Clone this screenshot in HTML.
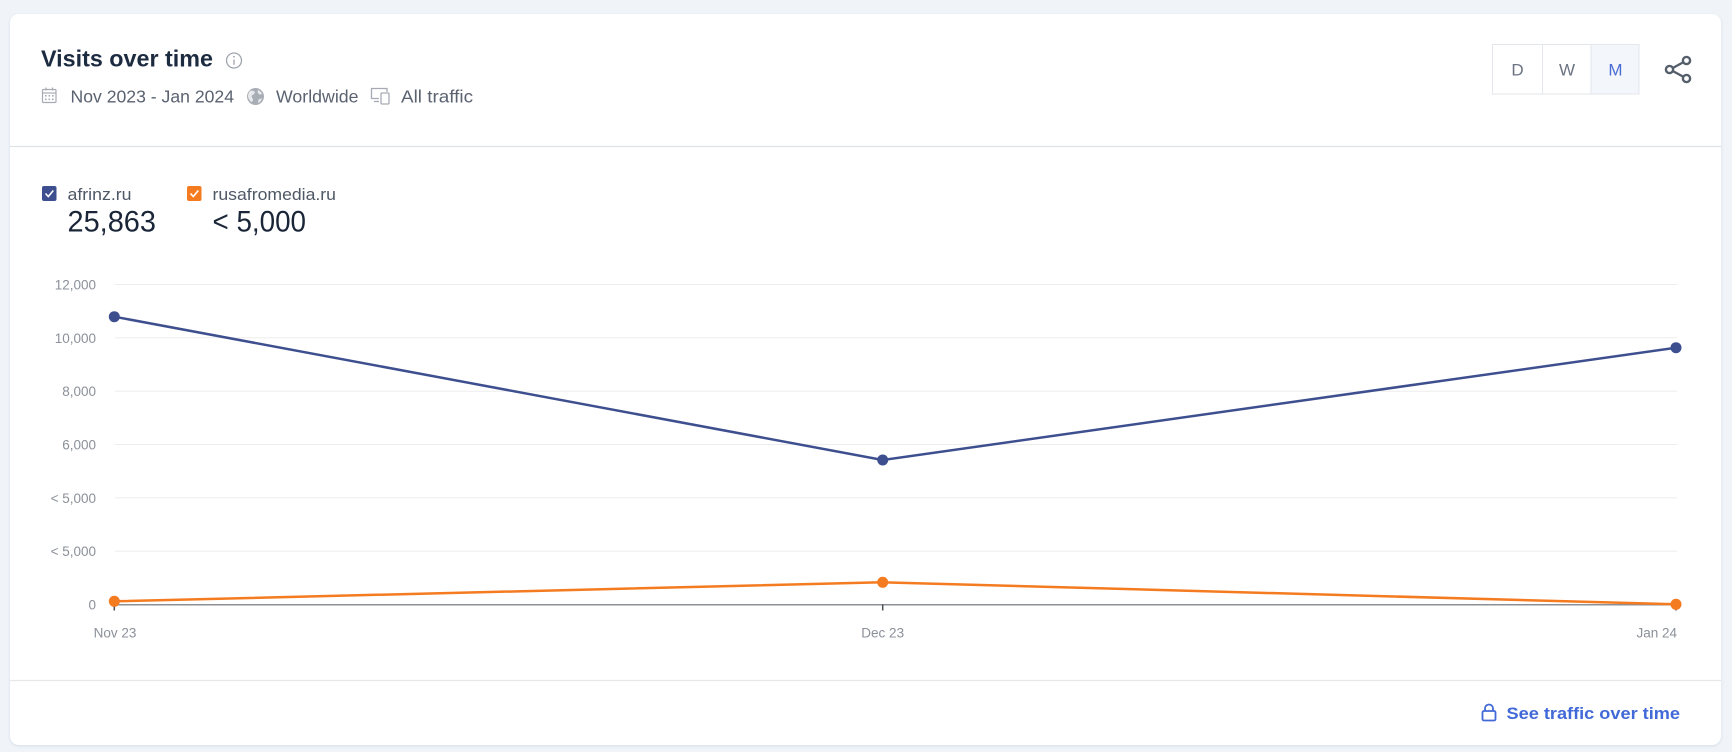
<!DOCTYPE html>
<html>
<head>
<meta charset="utf-8">
<style>
  html,body{margin:0;padding:0;background:#f0f4f9;}
  body{width:1732px;height:752px;overflow:hidden;}
  svg{display:block;}
  text{font-family:"Liberation Sans",Arial,sans-serif;}
</style>
</head>
<body>
<svg width="1732" height="752" viewBox="0 0 1732 752" xmlns="http://www.w3.org/2000/svg">
  <defs>
    <filter id="sh" x="-5%" y="-5%" width="110%" height="110%">
      <feDropShadow dx="0" dy="1" stdDeviation="1.5" flood-color="#9fb0c8" flood-opacity="0.35"/>
    </filter>
  </defs>
  <rect x="0" y="0" width="1732" height="752" fill="#f0f4f9"/>
  <!-- card -->
  <rect x="10" y="14" width="1711" height="731" rx="9" ry="9" fill="#ffffff" filter="url(#sh)"/>

  <!-- title -->
  <text x="41" y="66.5" font-size="23.5" font-weight="bold" fill="#1c2b40" textLength="172" lengthAdjust="spacingAndGlyphs">Visits over time</text>
  <!-- info icon -->
  <circle cx="234" cy="60.5" r="7.5" fill="none" stroke="#a0a5ad" stroke-width="1.3"/>
  <circle cx="234" cy="56.8" r="0.9" fill="#a0a5ad"/>
  <line x1="234" y1="59.5" x2="234" y2="64.8" stroke="#a0a5ad" stroke-width="1.3"/>

  <!-- subtitle -->
  <!-- calendar icon -->
  <g fill="none" stroke="#a6abb3" stroke-width="1.2">
    <rect x="42.5" y="89.5" width="13.5" height="13" rx="1"/>
    <line x1="42.5" y1="93" x2="56" y2="93"/>
    <line x1="46" y1="87.5" x2="46" y2="90.5"/>
    <line x1="52.5" y1="87.5" x2="52.5" y2="90.5"/>
  </g>
  <g fill="#a6abb3">
    <rect x="45" y="95" width="1.6" height="1.6"/><rect x="48.5" y="95" width="1.6" height="1.6"/><rect x="52" y="95" width="1.6" height="1.6"/>
    <rect x="45" y="98.5" width="1.6" height="1.6"/><rect x="48.5" y="98.5" width="1.6" height="1.6"/><rect x="52" y="98.5" width="1.6" height="1.6"/>
  </g>
  <text x="70.5" y="102.5" font-size="17.5" fill="#5a6270" textLength="163.5" lengthAdjust="spacingAndGlyphs">Nov 2023 - Jan 2024</text>
  <!-- globe -->
  <circle cx="255.5" cy="96.5" r="8.5" fill="#a9aeb6"/>
  <path d="M250 91 q3 -1 5 1 q-1 3 -3 3 q-1 2 1 4 q0 3 -2 3 q-2 -2 -3 -5 q0 -4 2 -6z" fill="#e7e9ec"/>
  <path d="M258 90 q3 1 4 4 q-2 1 -3 0 q-2 -1 -1 -4z" fill="#e7e9ec"/>
  <path d="M259 99 q2 0 3 -1 q-1 4 -4 5 q0 -2 1 -4z" fill="#e7e9ec"/>
  <text x="276" y="102.5" font-size="17.5" fill="#5a6270" textLength="82.5" lengthAdjust="spacingAndGlyphs">Worldwide</text>
  <!-- device icon -->
  <g fill="none" stroke="#a6abb3" stroke-width="1.3">
    <path d="M379 98.5 H371.5 V88.5 H387 V92"/>
    <line x1="374" y1="101.5" x2="379" y2="101.5"/>
    <rect x="381" y="93" width="8" height="11" rx="1"/>
  </g>
  <text x="401" y="102.5" font-size="17.5" fill="#5a6270" textLength="72" lengthAdjust="spacingAndGlyphs">All traffic</text>

  <!-- D W M buttons -->
  <rect x="1591" y="44.5" width="48" height="49.5" fill="#f3f6fb"/>
  <rect x="1492.5" y="44.5" width="146.5" height="49.5" fill="none" stroke="#e3e6ea" stroke-width="1"/>
  <line x1="1542.5" y1="44.5" x2="1542.5" y2="94" stroke="#e3e6ea" stroke-width="1"/>
  <line x1="1591" y1="44.5" x2="1591" y2="94" stroke="#e3e6ea" stroke-width="1"/>
  <text x="1517.5" y="75.5" font-size="17" fill="#6b7383" text-anchor="middle">D</text>
  <text x="1567" y="75.5" font-size="17" fill="#6b7383" text-anchor="middle">W</text>
  <text x="1615.5" y="75.5" font-size="17" fill="#4a6dd4" text-anchor="middle">M</text>

  <!-- share icon -->
  <g fill="none" stroke="#555e6b" stroke-width="2.4">
    <line x1="1670" y1="69.5" x2="1686.5" y2="60.5"/>
    <line x1="1670" y1="69.5" x2="1686.5" y2="78.5"/>
    <circle cx="1686.5" cy="60.5" r="3.6" fill="#fff"/>
    <circle cx="1669.5" cy="69.5" r="3.6" fill="#fff"/>
    <circle cx="1686.5" cy="78.5" r="3.6" fill="#fff"/>
  </g>

  <!-- header divider -->
  <line x1="10" y1="146.5" x2="1721" y2="146.5" stroke="#dfe2e6" stroke-width="1.2"/>

  <!-- legend -->
  <rect x="42" y="186" width="14.5" height="15" rx="2" fill="#3e4f8f"/>
  <path d="M45.5 193.5 l2.8 3 l5 -6" fill="none" stroke="#ffffff" stroke-width="1.6"/>
  <text x="67.5" y="200" font-size="16.5" fill="#4f5866" textLength="64" lengthAdjust="spacingAndGlyphs">afrinz.ru</text>
  <text x="67.5" y="231.5" font-size="30" fill="#1a2638" textLength="88.5" lengthAdjust="spacingAndGlyphs">25,863</text>

  <rect x="187" y="186" width="14.5" height="15" rx="2" fill="#f47b20"/>
  <path d="M190.5 193.5 l2.8 3 l5 -6" fill="none" stroke="#ffffff" stroke-width="1.6"/>
  <text x="212.5" y="200" font-size="16.5" fill="#4f5866" textLength="123.5" lengthAdjust="spacingAndGlyphs">rusafromedia.ru</text>
  <text x="212.5" y="231.5" font-size="30" fill="#1a2638" textLength="93.5" lengthAdjust="spacingAndGlyphs">&lt; 5,000</text>

  <!-- grid -->
  <g stroke="#ededed" stroke-width="1">
    <line x1="115" y1="284.5" x2="1677" y2="284.5"/>
    <line x1="115" y1="337.8" x2="1677" y2="337.8"/>
    <line x1="115" y1="391.2" x2="1677" y2="391.2"/>
    <line x1="115" y1="444.5" x2="1677" y2="444.5"/>
    <line x1="115" y1="497.8" x2="1677" y2="497.8"/>
    <line x1="115" y1="551.2" x2="1677" y2="551.2"/>
  </g>
  <g font-size="13.5" fill="#8b9099" text-anchor="end">
    <text x="96" y="289.5">12,000</text>
    <text x="96" y="342.8">10,000</text>
    <text x="96" y="396.2">8,000</text>
    <text x="96" y="449.5">6,000</text>
    <text x="96" y="502.8">&lt; 5,000</text>
    <text x="96" y="556.2">&lt; 5,000</text>
    <text x="96" y="609.5">0</text>
  </g>
  <!-- axis -->
  <line x1="114" y1="604.8" x2="1677" y2="604.8" stroke="#8c8f94" stroke-width="1.5"/>
  <g stroke="#4a4f57" stroke-width="1.5">
    <line x1="114.3" y1="604.5" x2="114.3" y2="610.5"/>
    <line x1="882.7" y1="604.5" x2="882.7" y2="610.5"/>
    <line x1="1676" y1="604.5" x2="1676" y2="610.5"/>
  </g>
  <g font-size="13.5" fill="#8b9099">
    <text x="115" y="637.5" text-anchor="middle">Nov 23</text>
    <text x="882.7" y="637.5" text-anchor="middle">Dec 23</text>
    <text x="1677" y="637.5" text-anchor="end">Jan 24</text>
  </g>

  <!-- series: orange -->
  <polyline points="114.3,601.3 882.7,582.3 1676,604.3" fill="none" stroke="#f47b20" stroke-width="2.5" stroke-linejoin="round"/>
  <g fill="#f47b20">
    <circle cx="114.3" cy="601.3" r="5.5"/>
    <circle cx="882.7" cy="582.3" r="5.5"/>
    <circle cx="1676" cy="604.3" r="5.5"/>
  </g>
  <!-- series: blue -->
  <polyline points="114.3,316.7 882.7,460 1676,347.7" fill="none" stroke="#3e4f8f" stroke-width="2.5" stroke-linejoin="round"/>
  <g fill="#3e4f8f">
    <circle cx="114.3" cy="316.7" r="5.5"/>
    <circle cx="882.7" cy="460" r="5.5"/>
    <circle cx="1676" cy="347.7" r="5.5"/>
  </g>

  <!-- footer divider -->
  <line x1="10" y1="680.5" x2="1721" y2="680.5" stroke="#e6e8eb" stroke-width="1.2"/>
  <!-- lock -->
  <g fill="none" stroke="#4169d8" stroke-width="1.8">
    <path d="M484.5 0" />
    <path d="M1485 711 v-2.5 a4 4 0 0 1 8 0 v2.5"/>
    <rect x="1482.5" y="711" width="13" height="9.5" rx="1.5"/>
  </g>
  <text x="1506.5" y="719" font-size="17" font-weight="bold" fill="#4169d8" textLength="173.5" lengthAdjust="spacingAndGlyphs">See traffic over time</text>
</svg>
</body>
</html>
